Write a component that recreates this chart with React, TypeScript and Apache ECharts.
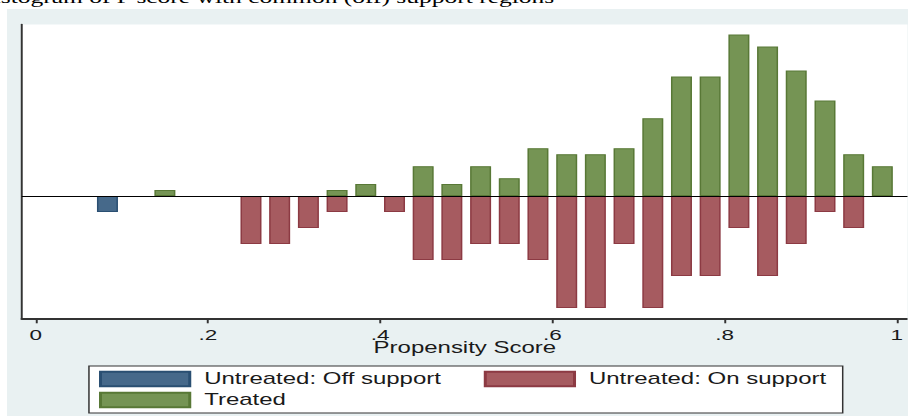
import React, { useEffect, useRef } from 'react';
import * as echarts from 'echarts';

// ---- data ----
const binCenters = [
  0.0167, 0.05, 0.0833, 0.1167, 0.15, 0.1833, 0.2167, 0.25, 0.2833, 0.3167,
  0.35, 0.3833, 0.4167, 0.45, 0.4833, 0.5167, 0.55, 0.5833, 0.6167, 0.65,
  0.6833, 0.7167, 0.75, 0.7833, 0.8167, 0.85, 0.8833, 0.9167, 0.95, 0.9833,
];
const binWidth = 1 / 30;
const treatedCounts = [
  0, 0, 0, 0, 1, 0, 0, 0, 0, 0,
  1, 2, 0, 5, 2, 5, 3, 8, 7, 7,
  8, 13, 20, 20, 27, 25, 21, 16, 7, 5,
];
const untreatedOffCounts = [
  0, 0, 1, 0, 0, 0, 0, 0, 0, 0,
  0, 0, 0, 0, 0, 0, 0, 0, 0, 0,
  0, 0, 0, 0, 0, 0, 0, 0, 0, 0,
];
const untreatedOnCounts = [
  0, 0, 0, 0, 0, 0, 0, 3, 3, 2,
  1, 0, 1, 4, 4, 3, 3, 4, 7, 7,
  3, 7, 5, 5, 2, 5, 3, 1, 2, 0,
];
const tickValues = [0, 0.2, 0.4, 0.6, 0.8, 1];
const tickLabels = ['0', '.2', '.4', '.6', '.8', '1'];
const seriesNames = ['Untreated: Off support', 'Untreated: On support', 'Treated'];
const xAxisTitle = 'Propensity Score';
const titleText = 'Histogram of P score with common (off) support regions';

// ---- layout ----
const SX = 1.5; // the reference picture is stretched horizontally
const W = 908 / SX;
const H = 416;

const sum = (a: number[]) => a.reduce((s, v) => s + v, 0);
const treatedTotal = sum(treatedCounts);
const untreatedTotal = sum(untreatedOffCounts) + sum(untreatedOnCounts);

function densities(counts: number[], total: number, sign: number) {
  const out: number[][] = [];
  counts.forEach((c, i) => {
    if (c > 0) out.push([binCenters[i], (sign * c) / total / binWidth]);
  });
  return out;
}

export default function App() {
  const ref = useRef<HTMLDivElement>(null);
  useEffect(() => {
    if (!ref.current) return;
    const chart = echarts.init(ref.current, null, { renderer: 'svg', width: W, height: H });
    const font = 'Liberation Sans';
    const barBase = {
      type: 'bar',
      barWidth: 14,
      barGap: '-100%',
      emphasis: { disabled: true },
    };
    const legendText = {
      fontSize: 16,
      fontFamily: font,
      color: '#1a1a1a',
      lineHeight: 16,
      padding: [0, 0, 0, 4.6],
    };
    const legendBase = {
      orient: 'horizontal',
      icon: 'rect',
      itemWidth: 59.5,
      itemHeight: 14.3,
      itemGap: 28.4,
      padding: 0,
      textStyle: legendText,
      selectedMode: false,
      z: 5,
    };
    chart.setOption({
      animation: false,
      graphic: [
        {
          type: 'text',
          x: -16.5,
          y: -2,
          style: {
            text: titleText,
            fontSize: 17,
            fontFamily: 'Liberation Serif',
            fill: '#000',
            verticalAlign: 'middle',
          },
        },
        {
          type: 'rect',
          z: 1,
          shape: { x: 59.3, y: 366, width: 502.5, height: 47 },
          style: { fill: '#ffffff', stroke: '#333', lineWidth: 1 },
        },
      ],
      grid: {
        left: 14.47,
        right: 0,
        top: 24.5,
        bottom: H - 318.3,
        show: true,
        backgroundColor: '#ffffff',
        borderWidth: 0,
      },
      xAxis: {
        type: 'value',
        min: -0.0163,
        max: 1.0131,
        axisLine: { show: true, onZero: false, lineStyle: { color: '#333', width: 1.8 } },
        axisTick: { show: true, customValues: tickValues, length: 5, lineStyle: { color: '#333', width: 1.3 } },
        axisLabel: {
          show: true,
          customValues: tickValues,
          formatter: (v: number) => tickLabels[tickValues.findIndex((t) => Math.abs(t - v) < 1e-9)] ?? '',
          fontSize: 15,
          fontFamily: font,
          color: '#1a1a1a',
          margin: 9,
        },
        splitLine: { show: false },
        name: xAxisTitle,
        nameLocation: 'middle',
        nameGap: 21,
        nameMoveOverlap: false,
        nameTextStyle: { fontSize: 16, fontFamily: font, color: '#1a1a1a' },
      },
      yAxis: {
        type: 'value',
        min: -3.02,
        max: 4.24,
        axisLine: { show: true, onZero: false, lineStyle: { color: '#333', width: 1.3 } },
        axisTick: { show: false },
        axisLabel: { show: false },
        splitLine: { show: false },
      },
      legend: [
        {
          ...legendBase,
          data: [seriesNames[0], seriesNames[1]],
          left: 66,
          top: 370.85,
        },
        {
          ...legendBase,
          data: [seriesNames[2]],
          left: 66,
          top: 391.85,
        },
      ],
      series: [
        {
          ...barBase,
          name: seriesNames[0],
          data: densities(untreatedOffCounts, untreatedTotal, -1),
          itemStyle: { color: '#46698A', borderColor: '#2A4F72', borderWidth: 1 },
        },
        {
          ...barBase,
          name: seriesNames[1],
          data: densities(untreatedOnCounts, untreatedTotal, -1),
          itemStyle: { color: '#A65B60', borderColor: '#8C3A43', borderWidth: 1 },
        },
        {
          ...barBase,
          name: seriesNames[2],
          data: densities(treatedCounts, treatedTotal, 1),
          itemStyle: { color: '#759454', borderColor: '#587836', borderWidth: 1 },
          markLine: {
            silent: true,
            symbol: ['none', 'none'],
            label: { show: false },
            lineStyle: { color: '#000', width: 1, type: 'solid' },
            data: [{ yAxis: 0 }],
          },
        },
      ],
    });
    return () => chart.dispose();
  }, []);

  return (
    <div style={{ position: 'absolute', left: 0, top: 0, width: 908, height: 416, overflow: 'hidden', background: '#ffffff' }}>
      <div style={{ position: 'absolute', left: 7, top: 9, right: 0, bottom: 0, background: '#E9F1F2' }} />
      <div
        ref={ref}
        style={{
          position: 'absolute',
          left: 0,
          top: 0,
          width: W,
          height: H,
          transform: `scaleX(${SX})`,
          transformOrigin: '0 0',
        }}
      />
    </div>
  );
}
